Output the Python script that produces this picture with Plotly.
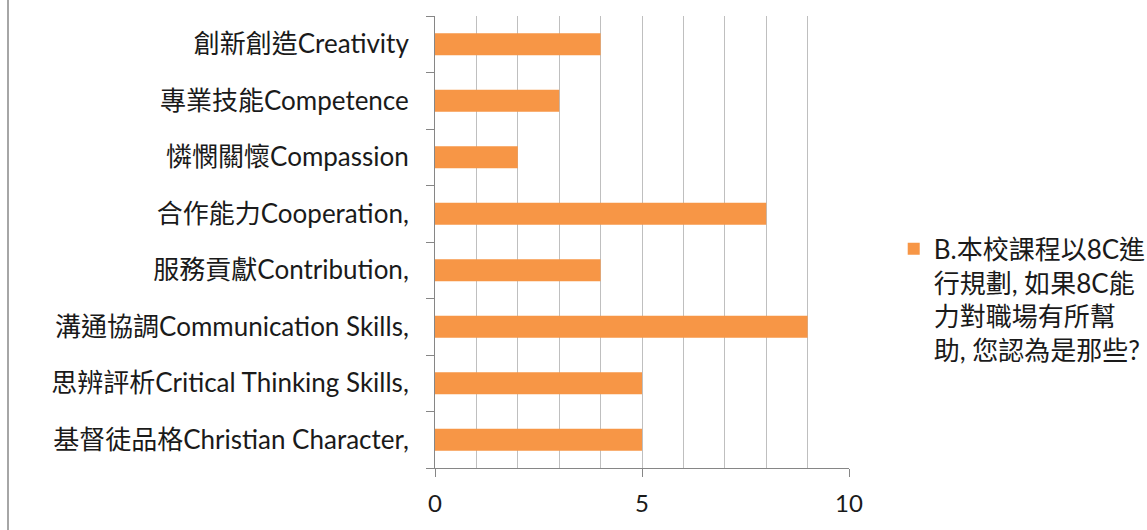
import plotly.graph_objects as go

categories = [
    "基督徒品格Christian Character,",
    "思辨評析Critical Thinking Skills,",
    "溝通協調Communication Skills,",
    "服務貢獻Contribution,",
    "合作能力Cooperation,",
    "憐憫關懷Compassion",
    "專業技能Competence",
    "創新創造Creativity",
]
values = [5, 5, 9, 4, 8, 2, 3, 4]
series_name = "B.本校課程以8C進<br>行規劃, 如果8C能<br>力對職場有所幫<br>助, 您認為是那些?"
x_ticks = [0, 5, 10]

FONT = "Lato, 'Noto Sans CJK TC', sans-serif"
AXIS_COLOR = "#868686"
GRID_COLOR = "#BFBFBF"

fig = go.Figure()
fig.add_trace(go.Bar(
    y=categories, x=values, orientation="h", name=series_name,
    marker=dict(color="#F79646", line=dict(width=0)), width=0.39,
    showlegend=True,
))

fig.update_layout(
    width=1147, height=530,
    margin=dict(l=435, r=298, t=16, b=62, autoexpand=False),
    paper_bgcolor="white", plot_bgcolor="white",
    font=dict(family=FONT, size=17, color="#1a1a1a"),
    xaxis=dict(
        range=[0, 10], tickvals=x_ticks, showgrid=True, gridcolor=GRID_COLOR, gridwidth=1,
        minor=dict(dtick=1, tick0=0, showgrid=True, gridcolor=GRID_COLOR, gridwidth=1, ticks=""),
        showline=True, linecolor=AXIS_COLOR, linewidth=1,
        ticks="outside", ticklen=8, tickcolor=AXIS_COLOR,
        ticklabelstandoff=6, zeroline=False, fixedrange=True,
        tickfont=dict(size=24),
    ),
    yaxis=dict(
        showline=True, linecolor=AXIS_COLOR, linewidth=1,
        ticks="outside", ticklen=8, tickcolor=AXIS_COLOR, tickson="boundaries",
        ticklabelstandoff=20, showgrid=False, zeroline=False,
        tickfont=dict(size=26),
    ),
    legend=dict(
        x=1.108, y=0.537, xanchor="left", yanchor="top", valign="top",
        font=dict(size=26), itemwidth=30, tracegroupgap=0,
    ),
    shapes=[dict(type="line", xref="paper", yref="paper",
                 x0=(8 - 435) / 414, x1=(8 - 435) / 414, y0=-62 / 452, y1=(452 + 16) / 452,
                 line=dict(color="#A6A6A6", width=2))],
)

fig.write_html("out.html", config={"displayModeBar": False},
               post_script="document.body.style.margin='0';document.body.style.overflow='hidden';")
